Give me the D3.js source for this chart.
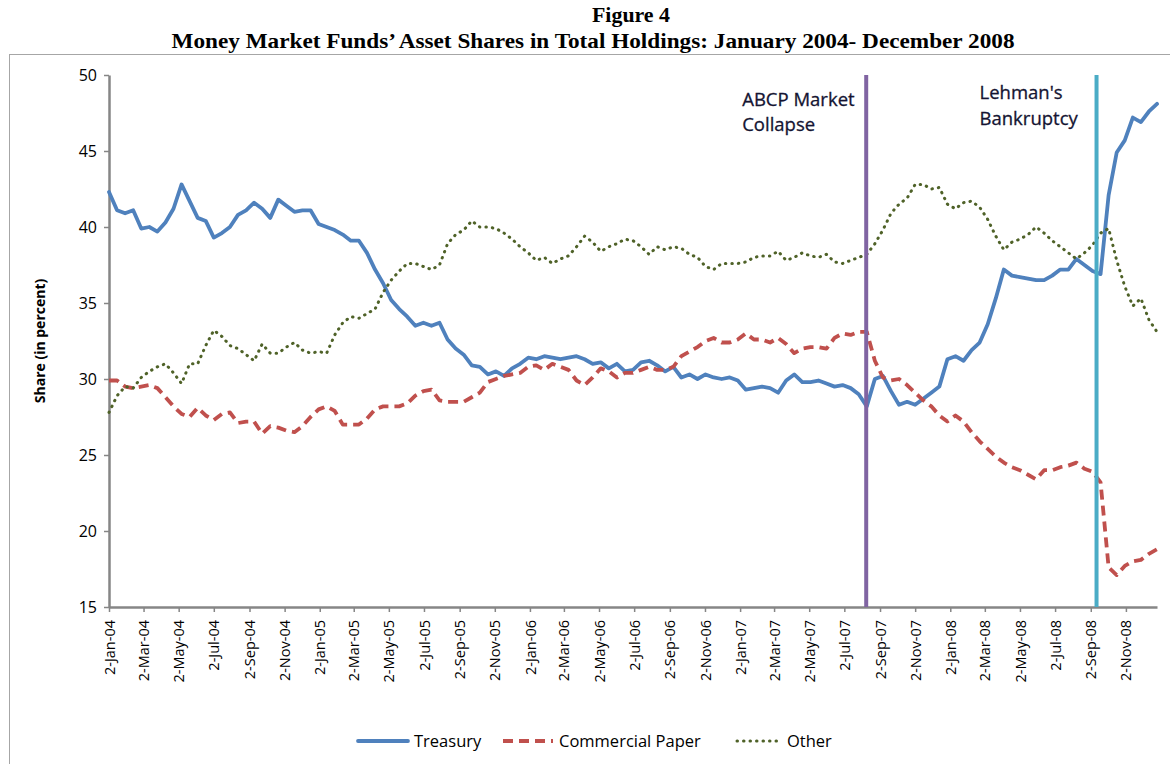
<!DOCTYPE html>
<html>
<head>
<meta charset="utf-8">
<script src="https://cdn.jsdelivr.net/npm/d3@7"></script>
<style>
  body { margin: 0; background: #fff; }
  svg text { font-family: "Open Sans", sans-serif; }
</style>
</head>
<body>
<svg id="chart" width="1170" height="764"></svg>
<script>
// biweekly observations starting 2-Jan-2004
var startDate = "2004-01-02";

var treasury = [
  42.3, 41.1, 40.9, 41.1, 39.9, 40.0, 39.7, 40.3, 41.2, 42.8,
  41.7, 40.6, 40.4, 39.3, 39.6, 40.0, 40.8, 41.1, 41.6, 41.2,
  40.6, 41.8, 41.4, 41.0, 41.1, 41.1, 40.2, 40.0, 39.8, 39.5,
  39.1, 39.1, 38.3, 37.2, 36.3, 35.2, 34.6, 34.1, 33.5, 33.7,
  33.5, 33.7, 32.6, 32.0, 31.6, 30.9, 30.8, 30.3, 30.5, 30.2,
  30.7, 31.0, 31.4, 31.3, 31.5, 31.4, 31.3, 31.4, 31.5, 31.3,
  31.0, 31.1, 30.7, 31.0, 30.5, 30.6, 31.1, 31.2, 30.9, 30.5,
  30.8, 30.1, 30.3, 30.0, 30.3, 30.1, 30.0, 30.1, 29.9, 29.3,
  29.4, 29.5, 29.4, 29.1, 29.9, 30.3, 29.8, 29.8, 29.9, 29.7,
  29.5, 29.6, 29.4, 29.0, 28.2, 30.0, 30.2, 29.2, 28.3, 28.5,
  28.3, 28.7, 29.1, 29.5, 31.3, 31.5, 31.2, 31.9, 32.4, 33.6,
  35.3, 37.2, 36.8, 36.7, 36.6, 36.5, 36.5, 36.8, 37.2, 37.2,
  37.9, 37.5, 37.1, 36.9, 42.1, 44.9, 45.7, 47.2, 46.9, 47.6,
  48.1
];

var commercialPaper = [
  29.9, 29.9, 29.5, 29.4, 29.5, 29.6, 29.4, 28.8, 28.2, 27.7,
  27.5, 28.1, 27.6, 27.3, 27.7, 27.8, 27.1, 27.2, 27.2, 26.4,
  26.9, 26.8, 26.6, 26.5, 26.9, 27.5, 28.0, 28.2, 27.9, 27.0,
  27.0, 27.0, 27.4, 28.0, 28.2, 28.2, 28.2, 28.4, 28.9, 29.2,
  29.3, 28.6, 28.5, 28.5, 28.5, 28.8, 29.1, 29.8, 30.0, 30.2,
  30.3, 30.4, 30.8, 30.9, 30.6, 31.0, 30.8, 30.6, 29.9, 29.6,
  30.1, 30.7, 30.5, 30.1, 30.4, 30.4, 30.6, 30.8, 30.6, 30.6,
  30.8, 31.5, 31.8, 32.1, 32.5, 32.7, 32.4, 32.4, 32.6, 33.0,
  32.6, 32.6, 32.4, 32.7, 32.3, 31.7, 32.0, 32.1, 32.1, 32.0,
  32.7, 33.0, 32.9, 33.1, 33.1, 31.2, 30.1, 29.9, 30.0, 29.6,
  29.1, 28.6, 28.2, 27.6, 27.2, 27.6, 27.2, 26.5, 25.9, 25.4,
  24.9, 24.5, 24.2, 24.0, 23.7, 23.4, 24.0, 24.0, 24.2, 24.3,
  24.5, 24.1, 23.9, 23.2, 17.6, 17.1, 17.7, 18.0, 18.1, 18.5,
  18.8
];

var other = [
  27.8, 28.9, 29.5, 29.4, 30.1, 30.5, 30.8, 31.0, 30.4, 29.7,
  31.0, 31.0, 32.2, 33.2, 32.8, 32.2, 32.0, 31.6, 31.2, 32.3,
  31.7, 31.7, 32.1, 32.4, 31.9, 31.7, 31.8, 31.7, 32.9, 33.7,
  34.1, 34.0, 34.3, 34.6, 35.7, 36.5, 37.1, 37.6, 37.6, 37.4,
  37.2, 37.5, 38.9, 39.5, 39.8, 40.4, 40.0, 40.0, 39.9, 39.6,
  39.2, 38.7, 38.3, 37.8, 38.0, 37.6, 37.9, 38.1, 38.7, 39.4,
  39.0, 38.4, 38.7, 38.9, 39.2, 39.1, 38.7, 38.2, 38.7, 38.5,
  38.7, 38.6, 38.2, 38.0, 37.4, 37.2, 37.6, 37.6, 37.6, 37.7,
  38.0, 38.1, 38.1, 38.4, 37.8, 38.0, 38.3, 38.1, 38.0, 38.2,
  37.7, 37.6, 37.8, 38.0, 38.2, 38.9, 39.8, 40.9, 41.5, 41.9,
  42.8, 42.8, 42.5, 42.6, 41.5, 41.2, 41.6, 41.7, 41.3, 40.5,
  39.4, 38.5, 39.0, 39.2, 39.5, 40.0, 39.6, 39.1, 38.7, 38.3,
  37.9, 38.3, 38.8, 39.6, 39.9, 37.8, 36.1, 34.8, 35.3, 33.9,
  33.1
];

var seriesNames = ["Treasury", "Commercial Paper", "Other"];

var tickLabels = [
  "2-Jan-04", "2-Mar-04", "2-May-04", "2-Jul-04", "2-Sep-04", "2-Nov-04",
  "2-Jan-05", "2-Mar-05", "2-May-05", "2-Jul-05", "2-Sep-05", "2-Nov-05",
  "2-Jan-06", "2-Mar-06", "2-May-06", "2-Jul-06", "2-Sep-06", "2-Nov-06",
  "2-Jan-07", "2-Mar-07", "2-May-07", "2-Jul-07", "2-Sep-07", "2-Nov-07",
  "2-Jan-08", "2-Mar-08", "2-May-08", "2-Jul-08", "2-Sep-08", "2-Nov-08"
];
var yTicks = [15, 20, 25, 30, 35, 40, 45, 50];

var eventDates = ["2007-08-09", "2008-09-12"];
var eventLabels = [["ABCP Market", "Collapse"], ["Lehman's", "Bankruptcy"]];

var svg = d3.select("#chart");
var margin = {top: 75, right: 13, bottom: 157, left: 109};
var width = 1170 - margin.left - margin.right;
var height = 764 - margin.top - margin.bottom;

var parseIso = d3.utcParse("%Y-%m-%d");
var parseTick = d3.utcParse("%d-%b-%y");
var start = parseIso(startDate);
var dates = treasury.map(function (d, i) { return d3.utcDay.offset(start, 14 * i); });

var x = d3.scaleUtc()
    .domain([start, dates[dates.length - 1]])
    .range([0, width]);

var y = d3.scaleLinear()
    .domain([15, 50])
    .range([height, 0]);

// outer frame and titles
svg.append("rect")
    .attr("x", 9.5).attr("y", 54.5)
    .attr("width", 1170).attr("height", 720)
    .attr("fill", "none").attr("stroke", "#a6a6a6");

svg.append("text")
    .attr("x", 631).attr("y", 22)
    .attr("text-anchor", "middle")
    .style("font-family", "'Liberation Serif', serif")
    .style("font-weight", "bold").style("font-size", "21px")
    .attr("textLength", 78).attr("lengthAdjust", "spacingAndGlyphs")
    .text("Figure 4");

svg.append("text")
    .attr("x", 593).attr("y", 48)
    .attr("text-anchor", "middle")
    .style("font-family", "'Liberation Serif', serif")
    .style("font-weight", "bold").style("font-size", "21px")
    .attr("textLength", 843).attr("lengthAdjust", "spacingAndGlyphs")
    .text("Money Market Funds\u2019 Asset Shares in Total Holdings: January 2004- December 2008");

var g = svg.append("g")
    .attr("transform", "translate(" + margin.left + "," + margin.top + ")");

// axes
var xAxis = g.append("g")
    .attr("transform", "translate(0," + height + ")")
    .call(d3.axisBottom(x)
        .tickValues(tickLabels.map(function (t) { return parseTick(t); }))
        .tickFormat(d3.utcFormat("%-d-%b-%y"))
        .tickSize(5).tickSizeOuter(0));

xAxis.selectAll("text")
    .attr("transform", "rotate(-90)")
    .attr("x", -13).attr("y", 0).attr("dy", "0.35em")
    .style("text-anchor", "end")
    .style("font-size", "14.5px")
    .attr("fill", "#000");

var yAxis = g.append("g")
    .call(d3.axisLeft(y).tickValues(yTicks).tickSize(5).tickSizeOuter(0));

yAxis.selectAll("text")
    .attr("x", -12)
    .style("font-size", "16px")
    .attr("fill", "#000");

g.selectAll(".domain").attr("stroke", "#868686").attr("stroke-width", 2.5);
g.selectAll(".tick line").attr("stroke", "#868686").attr("stroke-width", 1.5);

g.append("text")
    .attr("transform", "translate(-64," + (height / 2) + ") rotate(-90)")
    .attr("text-anchor", "middle")
    .style("font-size", "14px").style("font-weight", "bold")
    .text("Share (in percent)");

// series
var styles = [
  {values: treasury, color: "#4f81bd", width: 3.8, dash: null, cap: "round"},
  {values: commercialPaper, color: "#c0504d", width: 3.8, dash: "10,6", cap: "butt"},
  {values: other, color: "#4f6228", width: 3, dash: "0.5,6", cap: "round"}
];

var line = d3.line()
    .x(function (d, i) { return x(dates[i]); })
    .y(function (d) { return y(d); });

styles.forEach(function (s) {
  g.append("path")
      .datum(s.values)
      .attr("fill", "none")
      .attr("stroke", s.color)
      .attr("stroke-width", s.width)
      .attr("stroke-linejoin", "round")
      .attr("stroke-linecap", s.cap)
      .attr("stroke-dasharray", s.dash)
      .attr("d", line);
});

// event markers
var eventColors = ["#8064a2", "#4bacc6"];
var labelOffsets = [[-124, 31, 56], [-117, 24, 50]];

eventDates.forEach(function (d, i) {
  var ex = x(parseIso(d));
  g.append("line")
      .attr("x1", ex).attr("x2", ex)
      .attr("y1", 0).attr("y2", height)
      .attr("stroke", eventColors[i]).attr("stroke-width", 4);
  eventLabels[i].forEach(function (t, j) {
    g.append("text")
        .attr("x", ex + labelOffsets[i][0])
        .attr("y", labelOffsets[i][j + 1])
        .style("font-size", "18.5px")
        .attr("fill", "#141432")
        .attr("stroke", "#141432").attr("stroke-width", 0.3)
        .text(t);
  });
});

// legend
var legendX = [358, 503, 737];
var legend = svg.append("g").attr("transform", "translate(0,741)");
styles.forEach(function (s, i) {
  legend.append("line")
      .attr("x1", legendX[i]).attr("x2", legendX[i] + (i === 2 ? 40 : 50))
      .attr("y1", 0).attr("y2", 0)
      .attr("stroke", s.color)
      .attr("stroke-width", s.width)
      .attr("stroke-linecap", s.cap)
      .attr("stroke-dasharray", s.dash);
  legend.append("text")
      .attr("x", legendX[i] + (i === 2 ? 50 : 56))
      .attr("y", 0).attr("dy", "0.35em")
      .style("font-size", "16.5px")
      .text(seriesNames[i]);
});
</script>
</body>
</html>
